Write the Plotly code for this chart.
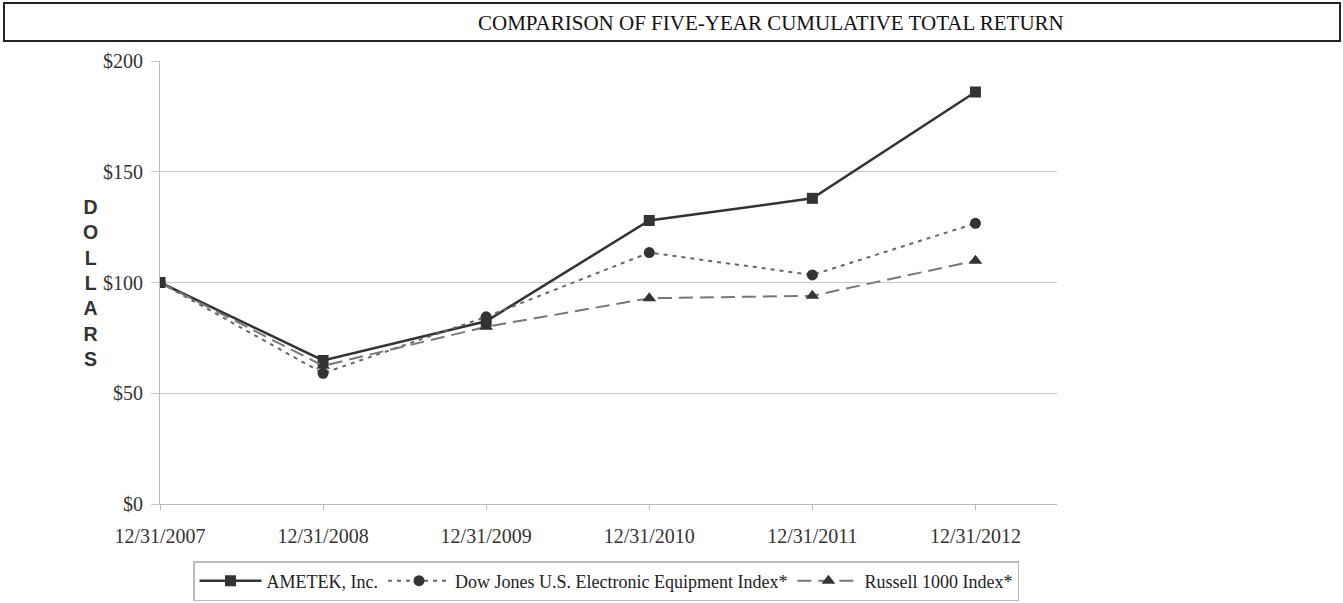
import plotly.graph_objects as go

dates = ["12/31/2007", "12/31/2008", "12/31/2009", "12/31/2010", "12/31/2011", "12/31/2012"]
ametek = [100, 64.8, 82.5, 128.0, 138.0, 186.0]
dow_jones = [100, 59.0, 84.5, 113.5, 103.4, 126.7]
russell = [100, 62.4, 80.0, 92.9, 94.0, 109.8]
y_ticks = [0, 50, 100, 150, 200]
y_tick_text = ["$0", "$50", "$100", "$150", "$200"]

serif = "Liberation Serif"
fig = go.Figure()
fig.add_trace(go.Scatter(x=dates, y=ametek, name="AMETEK, Inc.", mode="lines+markers",
                         line=dict(color="#333333", width=2.5),
                         marker=dict(symbol="square", size=11, color="#333333")))
fig.add_trace(go.Scatter(x=dates, y=dow_jones, name="Dow Jones U.S. Electronic Equipment Index*",
                         mode="lines+markers",
                         line=dict(color="#666666", width=2, dash="4px,5px"),
                         marker=dict(symbol="circle", size=11, color="#333333")))
fig.add_trace(go.Scatter(x=dates, y=russell, name="Russell 1000 Index*", mode="lines+markers",
                         line=dict(color="#777777", width=2, dash="14px,7px"),
                         marker=dict(symbol="triangle-up", size=12, color="#333333")))

W, H = 1343, 603
L, R, T, B = 160, 1057, 61, 504
pw, ph = R - L, B - T
def px(x): return (x - L) / pw
def py(y): return (B - y) / ph

fig.update_layout(
    width=W, height=H,
    margin=dict(l=L, r=W - R, t=T, b=H - B, autoexpand=False),
    paper_bgcolor="white", plot_bgcolor="white",
    font=dict(family=serif, size=20, color="#333333"),
    showlegend=True,
    legend=dict(orientation="h", x=px(606), xanchor="center", y=py(581), yanchor="middle",
                bordercolor="#bbbbbb", borderwidth=1.5, font=dict(family=serif, size=18, color="#222222"),
                itemwidth=62, tracegroupgap=0),
    xaxis=dict(type="category", range=[0, 5.5], showgrid=False, showline=True, linecolor="#bbbbbb",
               linewidth=1, ticks="outside", ticklen=5, tickcolor="#bbbbbb", ticklabelstandoff=9,
               automargin=False,
               tickfont=dict(family=serif, size=20, color="#333333"), zeroline=False),
    yaxis=dict(range=[0, 200], tickvals=y_ticks, ticktext=y_tick_text, showgrid=True,
               gridcolor="#c8c8c8", gridwidth=1, showline=True, linecolor="#bbbbbb",
               ticks="outside", ticklen=8, tickcolor="#c8c8c8", ticklabelstandoff=4,
               automargin=False,
               tickfont=dict(family=serif, size=20, color="#333333"), zeroline=False),
    shapes=[dict(type="rect", xref="paper", yref="paper", x0=px(4), x1=px(1340),
                 y0=py(41), y1=py(3), line=dict(color="#222222", width=2))],
    annotations=[
        dict(text="COMPARISON OF FIVE-YEAR CUMULATIVE TOTAL RETURN", xref="paper", yref="paper",
             x=px(771), y=py(23), xanchor="center", yanchor="middle", showarrow=False,
             font=dict(family=serif, size=21, color="#111111")),
        dict(text="<b>D<br>O<br>L<br>L<br>A<br>R<br>S</b>", xref="paper", yref="paper",
             x=px(90), y=py(283), xanchor="center", yanchor="middle", showarrow=False,
             font=dict(family="Liberation Sans", size=19.5, color="#333333"), align="center"),
    ],
)
fig.write_html("out.html", config={"displayModeBar": False},
               post_script="document.body.style.margin='0px';")
